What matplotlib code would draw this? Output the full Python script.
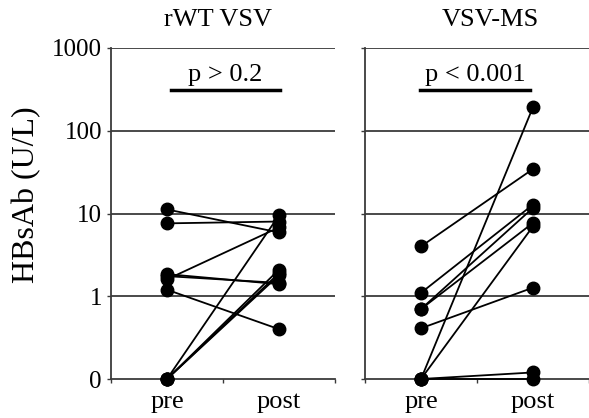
import matplotlib
matplotlib.use("Agg")
import matplotlib.pyplot as plt
from matplotlib.ticker import FixedLocator, NullLocator

plt.rcParams['font.family'] = ['Liberation Serif', 'DejaVu Serif']

ZERO = 0.1  # value drawn on the "0" line of the log axis

categories = ["pre", "post"]
ytick_values = [0.1, 1, 10, 100, 1000]
ytick_labels = ["0", "1", "10", "100", "1000"]

# rWT VSV panel: paired values (pre, post)
wt_pre = [11.2, 7.6, 1.6, 1.85, 1.75, 1.2, ZERO, ZERO, ZERO, ZERO]
wt_post = [5.9, 8.0, 6.8, 1.4, 1.45, 0.4, 9.5, 2.1, 1.8, 1.9]

# VSV-MS panel: paired values (pre, post)
ms_pre = [4.0, 1.1, 0.7, 0.7, 0.41, ZERO, ZERO, ZERO, ZERO]
ms_post = [34.5, 12.8, 11.7, 7.7, 1.27, 193, 7.0, 0.12, ZERO]

titles = ["rWT VSV", "VSV-MS"]
pvalues = ["p > 0.2", "p < 0.001"]
ylabel = "HBsAb (U/L)"

W, H = 589, 418
fig = plt.figure(figsize=(W / 100, H / 100), dpi=100)

def frac_x(px):
    return px / W

def frac_y(py):
    return 1 - py / H

ax_top, ax_bot = 48, 379
panels = [(111, 335), (365, 589)]
line_col = '#3a3a3a'
fs = 19

axes = []
for i, ((x0, x1), pre, post) in enumerate(zip(panels, [wt_pre, ms_pre], [wt_post, ms_post])):
    ax = fig.add_axes([frac_x(x0), frac_y(ax_bot), frac_x(x1 - x0), (ax_bot - ax_top) / H])
    ax.set_yscale('log')
    ax.set_ylim(0.1, 1000)
    ax.set_xlim(-0.5, 1.5)
    for yv in [1, 10, 100, 1000]:
        ax.axhline(yv, color=line_col, lw=1.3, zorder=1)
    for a, b in zip(pre, post):
        ax.plot([0, 1], [a, b], color='black', lw=1.3, zorder=3,
                marker='o', ms=9, mfc='black', mec='black', clip_on=False)
    for s in ['top', 'right']:
        ax.spines[s].set_visible(False)
    for s in ['left', 'bottom']:
        ax.spines[s].set_color(line_col)
        ax.spines[s].set_linewidth(1.3)
    ax.yaxis.set_major_locator(FixedLocator(ytick_values))
    ax.yaxis.set_minor_locator(NullLocator())
    ax.xaxis.set_major_locator(FixedLocator([-0.5, 0.5, 1.5]))
    ax.tick_params(axis='both', which='major', direction='out', length=3,
                   width=1.0, color=line_col, labelsize=18)
    ax.set_xticklabels([])
    if i == 0:
        ax.set_yticklabels(ytick_labels)
    else:
        ax.set_yticklabels([])
    for xi, cat in enumerate(categories):
        ax.text(xi, -0.036, cat, transform=ax.get_xaxis_transform(),
                ha='center', va='top', fontsize=fs)
    axes.append(ax)

fig.text(frac_x(27), frac_y(195), ylabel, rotation=90, ha='center', va='center',
         fontsize=23)

# titles and p-value annotations
title_x = [218, 490]
p_x = [225, 475]
bar_x = [(171, 280), (420, 530)]
for tx, t, px, pv, (bx0, bx1) in zip(title_x, titles, p_x, pvalues, bar_x):
    fig.text(frac_x(tx), frac_y(20), t, ha='center', va='center', fontsize=fs)
    fig.text(frac_x(px), frac_y(75), pv, ha='center', va='center', fontsize=fs)
    fig.add_artist(plt.Line2D([frac_x(bx0), frac_x(bx1)], [frac_y(90), frac_y(90)],
                              color='black', lw=2.5, transform=fig.transFigure))

fig.savefig("out.png", dpi=100)
